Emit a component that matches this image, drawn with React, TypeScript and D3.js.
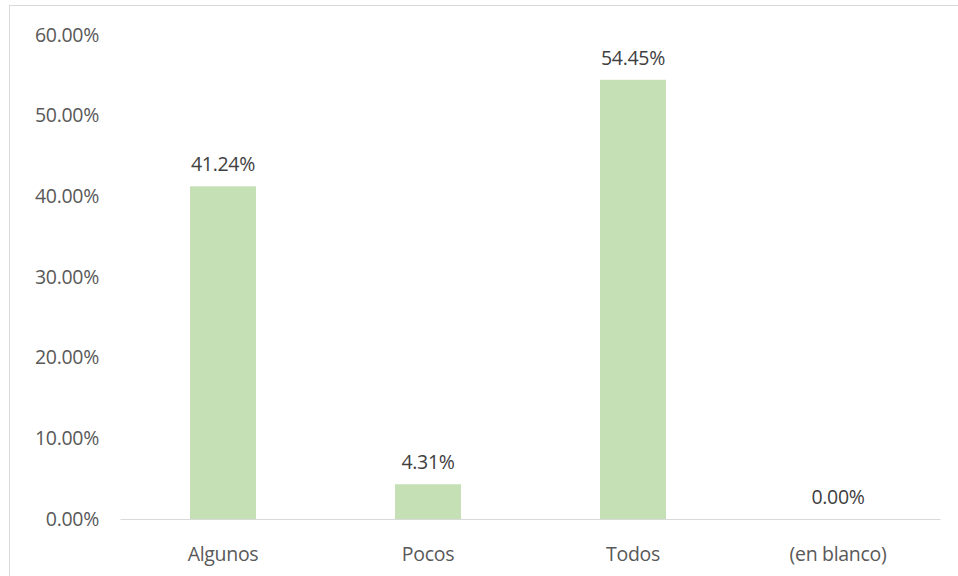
import React from "react";
import * as d3 from "d3";

const categories = ["Algunos", "Pocos", "Todos", "(en blanco)"];
const values = [41.24, 4.31, 54.45, 0.0];
const yTicks = [0, 10, 20, 30, 40, 50, 60];

export default function App() {
  const W = 958, H = 576;
  const x = d3.scaleBand<string>().domain(categories).range([120.5, 940.5]).paddingInner(0.678).paddingOuter(0.339);
  const y = d3.scaleLinear().domain([0, 60]).range([519, 35]);
  const font = "'Open Sans', sans-serif";
  const color = "#595959";
  const fs = 19.5;
  return (
    <svg width={W} height={H} style={{ position: "absolute", left: 0, top: 0 }}>
      <rect x={0} y={0} width={W} height={H} fill="#fff" />
      <rect x={9.5} y={5.5} width={W + 5} height={H + 5} fill="none" stroke="#D9D9D9" strokeWidth={1} />
      {yTicks.map((t) => (
        <text key={t} x={99} y={y(t)} dy="0.35em" textAnchor="end" fontFamily={font} fontSize={fs} letterSpacing={-0.3} fill={color}>
          {t.toFixed(2)}%
        </text>
      ))}
      {categories.map((c, i) => (
        <g key={c}>
          <rect x={x(c)!} y={y(values[i])} width={x.bandwidth()} height={y(0) - y(values[i])} fill="#C5E0B4" />
          <text x={x(c)! + x.bandwidth() / 2} y={y(values[i]) - 15} textAnchor="middle" fontFamily={font} fontSize={fs} letterSpacing={-0.3} fill="#404040">
            {values[i].toFixed(2)}%
          </text>
          <text x={x(c)! + x.bandwidth() / 2} y={561} textAnchor="middle" fontFamily={font} fontSize={fs} letterSpacing={-0.3} fill={color}>
            {c}
          </text>
        </g>
      ))}
      <line x1={120.5} x2={940.5} y1={519.5} y2={519.5} stroke="#D9D9D9" strokeWidth={1} />
    </svg>
  );
}
